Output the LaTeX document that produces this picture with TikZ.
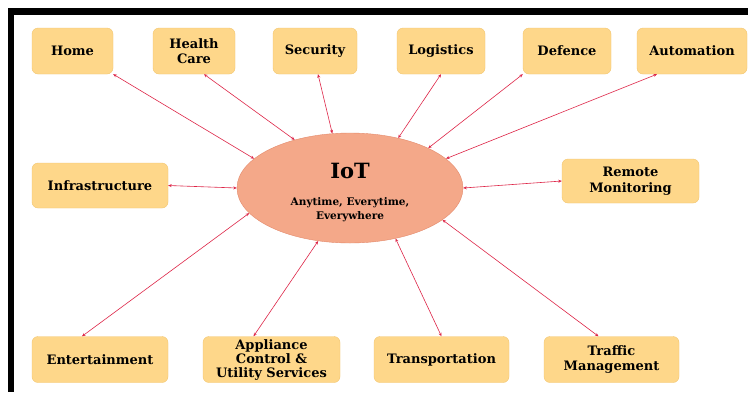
\documentclass[tikz,border=0pt]{standalone}
\usepackage{fontspec}
\setmainfont{DejaVu Serif}
\usetikzlibrary{arrows.meta,shapes.geometric}
\definecolor{boxfill}{RGB}{254,215,138}
\definecolor{boxline}{RGB}{243,198,112}
\definecolor{iotfill}{RGB}{244,168,137}
\definecolor{iotline}{RGB}{228,138,108}
\definecolor{linkred}{RGB}{222,38,72}

\begin{document}
\begin{tikzpicture}[x=1pt, y=-1pt,
	area/.style={draw=boxline, fill=boxfill, rounded corners=6pt, minimum height=46pt,
		align=center, font=\bfseries\fontsize{13}{15.5}\selectfont, inner sep=1pt},
	link/.style={linkred, line width=0.6pt, {Stealth[length=3.5pt,width=3pt]}-{Stealth[length=3.5pt,width=3pt]}}]
			%%%%% START %%%%%
			
			\useasboundingbox (0, 0) rectangle (748, 392);
			\fill[white] (0, 0) rectangle (748, 392);
			\fill[black] (8, 8) rectangle (748, 15);
			\fill[black] (8, 8) rectangle (14, 392);
			
			\node[ellipse, draw=iotline, fill=iotfill, minimum width=226pt, minimum height=110pt] (iot) at (350, 188) {};
			\node[font=\bfseries\fontsize{21}{22}\selectfont] (iottitle) at (350, 171) {IoT};
			\node[font=\bfseries\fontsize{10.5}{14}\selectfont, align=center] (iottext) at (350, 210) {Anytime, Everytime,\\Everywhere};
			
			\node[area, minimum width=81pt] (home) at (72.5, 51) {Home};
			\node[area, minimum width=82pt] (health) at (194, 51) {Health\\Care};
			\node[area, minimum width=84pt] (security) at (315, 51) {Security};
			\node[area, minimum width=88pt] (logistics) at (441, 51) {Logistics};
			\node[area, minimum width=88pt] (defence) at (567, 51) {Defence};
			\node[area, minimum width=110pt] (automation) at (692, 51) {Automation};
			
			\node[area, minimum width=136pt, minimum height=45pt] (infra) at (100, 185.5) {Infrastructure};
			\node[area, minimum width=137pt, minimum height=44pt] (remote) at (630.5, 181) {Remote\\Monitoring};
			
			\node[area, minimum width=136pt] (entertain) at (100, 359.5) {Entertainment};
			\node[area, minimum width=137pt, font=\bfseries\fontsize{13}{14}\selectfont] (appliance) at (271.5, 359.5) {Appliance\\Control \&\\Utility Services};
			\node[area, minimum width=135pt] (transport) at (441.5, 359.5) {Transportation};
			\node[area, minimum width=135pt] (traffic) at (611.5, 359.5) {Traffic\\Management};
			
			\draw[link] (home.south east) -- (iot.163);
			\draw[link] ([xshift=10pt]health.south) -- (iot.139);
			\draw[link] ([xshift=3pt]security.south) -- (iot.108);
			\draw[link] (logistics.south) -- (iot.46);
			\draw[link] (defence.south west) -- (iot.27);
			\draw[link] ([xshift=-35pt]automation.south) -- (iot.17);
			
			\draw[link] (infra.east) -- (iot.180);
			\draw[link] (remote.west) -- (iot.0);
			
			\draw[link] ([xshift=-18pt]entertain.north) -- (iot.194);
			\draw[link] ([xshift=-18pt]appliance.north) -- (iot.239);
			\draw[link] (transport.north) -- (iot.312);
			\draw[link] ([xshift=-13pt]traffic.north) -- (iot.341);
			
			%%%%% END %%%%%
\end{tikzpicture}
\end{document}
